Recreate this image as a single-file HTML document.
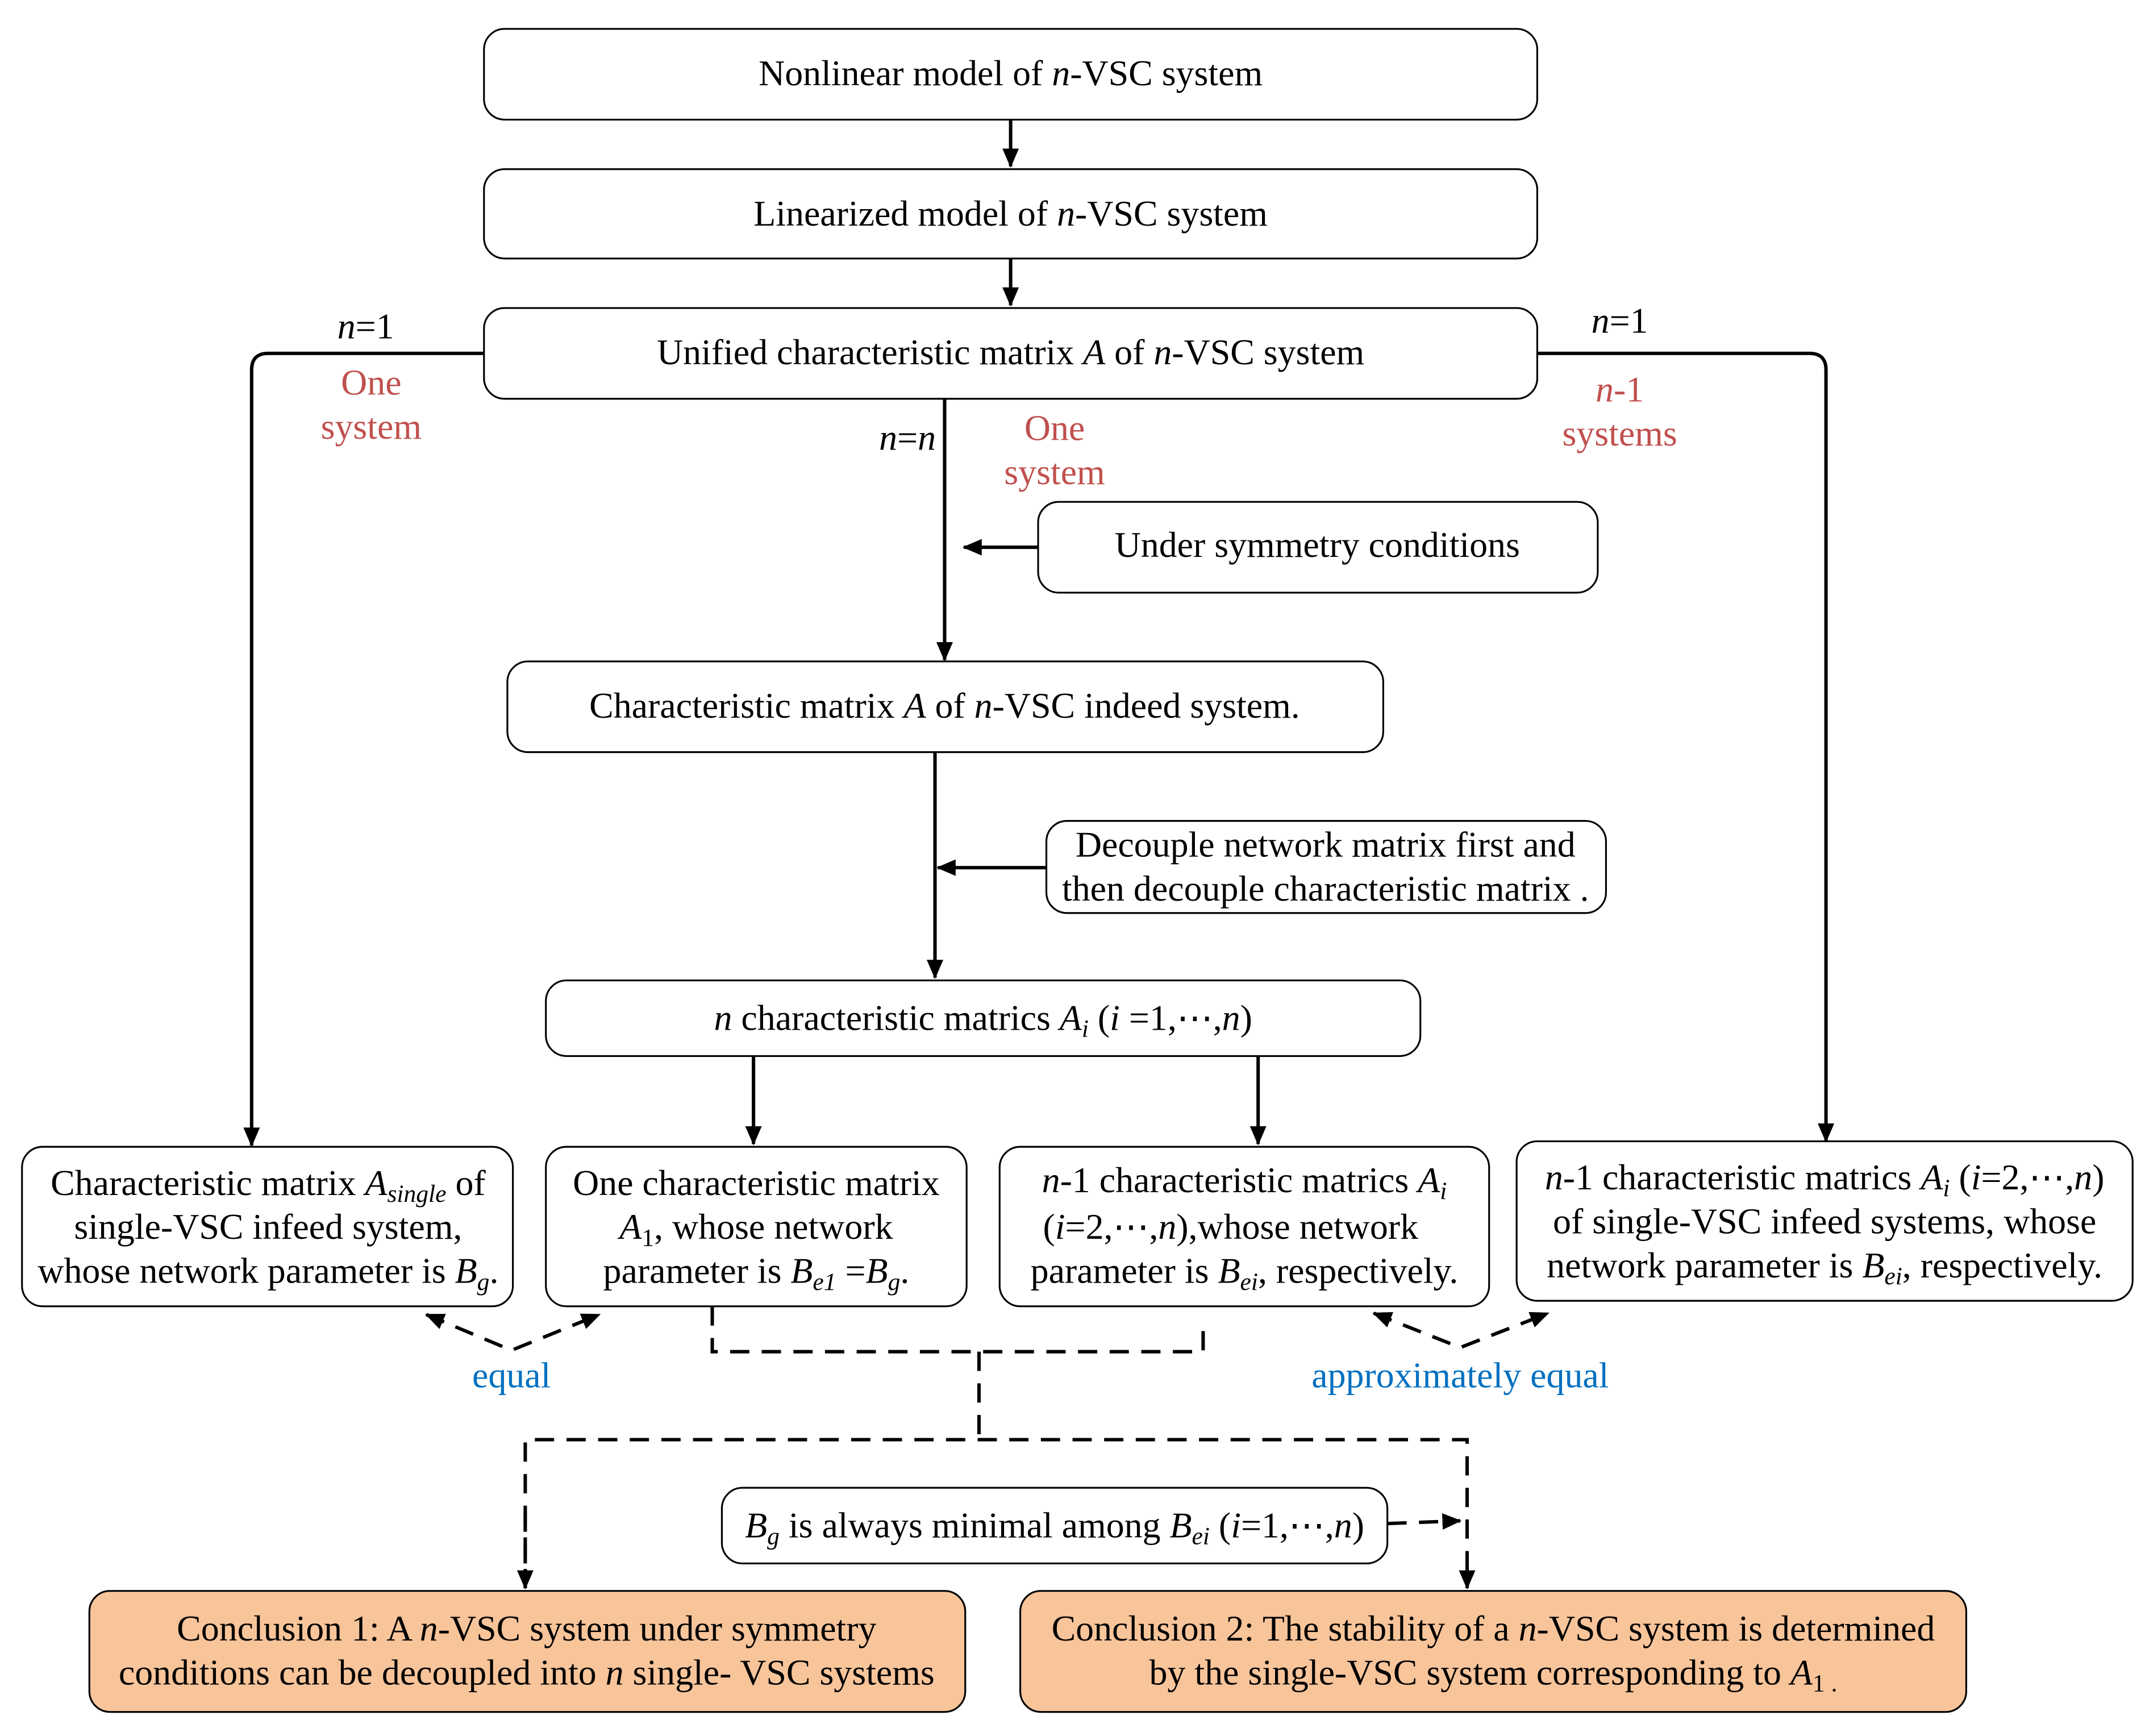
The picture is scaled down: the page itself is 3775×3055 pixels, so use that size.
<!DOCTYPE html>
<html><head><meta charset="utf-8"><style>
html,body{margin:0;padding:0;background:#fff}
svg{display:block}
text{font-family:"Liberation Serif",serif;font-size:26.4px;fill:#000}
.r{fill:#C0504D}.b{fill:#0070C0}
</style></head><body>
<svg width="3775" height="3055" viewBox="0 0 1560 1262.5" preserveAspectRatio="none" xmlns="http://www.w3.org/2000/svg">
<defs>
<marker id="a" markerWidth="14" markerHeight="14" refX="13" refY="7" orient="auto" markerUnits="userSpaceOnUse"><path d="M0,1 L14,7 L0,13 z" fill="#000"/></marker>
<marker id="s" markerWidth="14" markerHeight="14" refX="1" refY="7" orient="auto" markerUnits="userSpaceOnUse"><path d="M14,1 L0,7 L14,13 z" fill="#000"/></marker>
</defs>
<g fill="#fff" stroke="#000" stroke-width="1.3">
<rect x="352" y="21" width="766" height="66" rx="15"/>
<rect x="352" y="123" width="766" height="65" rx="15"/>
<rect x="352" y="224" width="766" height="66" rx="15"/>
<rect x="755" y="365" width="407" height="66" rx="15"/>
<rect x="369" y="481" width="637" height="66" rx="15"/>
<rect x="761" y="597" width="407" height="67" rx="15"/>
<rect x="397" y="713" width="636" height="55" rx="15"/>
<rect x="16" y="834" width="357" height="116" rx="15"/>
<rect x="397" y="834" width="306" height="116" rx="15"/>
<rect x="727" y="834" width="356" height="116" rx="15"/>
<rect x="1103" y="830" width="448" height="116" rx="15"/>
<rect x="525" y="1082" width="484" height="55" rx="15"/>
<rect x="65" y="1157" width="637" height="88" rx="15" fill="#F8C49A"/>
<rect x="742" y="1157" width="688" height="88" rx="15" fill="#F8C49A"/>
</g>
<g stroke="#000" stroke-width="2.5" fill="none">
<line x1="735" y1="87" x2="735" y2="121" marker-end="url(#a)"/>
<line x1="735" y1="188" x2="735" y2="222" marker-end="url(#a)"/>
<path d="M352,257 H195 Q183,257 183,269 V833" marker-end="url(#a)"/>
<path d="M1118,257 H1316 Q1328,257 1328,269 V830" marker-end="url(#a)"/>
<line x1="687" y1="290" x2="687" y2="480" marker-end="url(#a)"/>
<line x1="755" y1="398" x2="701" y2="398" marker-end="url(#a)"/>
<line x1="680" y1="547" x2="680" y2="711" marker-end="url(#a)"/>
<line x1="761" y1="631" x2="682" y2="631" marker-end="url(#a)"/>
<line x1="548" y1="768" x2="548" y2="832" marker-end="url(#a)"/>
<line x1="915" y1="768" x2="915" y2="832" marker-end="url(#a)"/>
</g>
<g stroke="#000" stroke-width="2.5" fill="none" stroke-dasharray="14,9">
<path d="M310,956 L372,982 L436,956" marker-start="url(#s)" marker-end="url(#a)"/>
<path d="M999,955 L1062,980 L1126,955" marker-start="url(#s)" marker-end="url(#a)"/>
<path d="M518,950 V983 H875 V960"/>
<line x1="712" y1="983" x2="712" y2="1047"/>
<path d="M382,1155 V1047 H1067 V1155" marker-end="url(#a)"/>
<line x1="382" y1="1100" x2="382" y2="1155" marker-end="url(#a)"/>
<line x1="1009" y1="1108" x2="1062" y2="1106" marker-end="url(#a)"/>
</g>
<g text-anchor="middle">
<text x="735" y="62">Nonlinear model of <tspan font-style="italic">n</tspan>-VSC system</text>
<text x="735" y="164">Linearized model of <tspan font-style="italic">n</tspan>-VSC system</text>
<text x="735" y="265">Unified characteristic matrix <tspan font-style="italic">A</tspan> of <tspan font-style="italic">n</tspan>-VSC system</text>
<text x="958" y="405">Under symmetry conditions</text>
<text x="687" y="522">Characteristic matrix <tspan font-style="italic">A</tspan> of <tspan font-style="italic">n</tspan>-VSC indeed system.</text>
<text x="964" y="623">Decouple network matrix first and</text>
<text x="964" y="655">then decouple characteristic matrix .</text>
<text x="715" y="749"><tspan font-style="italic">n</tspan> characteristic matrics <tspan font-style="italic">A<tspan font-size="18" dy="5">i</tspan></tspan><tspan dy="-5"> (</tspan><tspan font-style="italic">i</tspan> =1,⋯,<tspan font-style="italic">n</tspan>)</text>
<text x="195" y="869">Characteristic matrix <tspan font-style="italic">A<tspan font-size="18" dy="5">single</tspan></tspan><tspan dy="-5"> of</tspan></text>
<text x="195" y="901">single-VSC infeed system,</text>
<text x="195" y="933">whose network parameter is <tspan font-style="italic">B<tspan font-size="18" dy="5">g</tspan></tspan><tspan dy="-5">.</tspan></text>
<text x="550" y="869">One characteristic matrix</text>
<text x="550" y="901"><tspan font-style="italic">A</tspan><tspan font-size="18" dy="5">1</tspan><tspan dy="-5">, whose network</tspan></text>
<text x="550" y="933">parameter is <tspan font-style="italic">B<tspan font-size="18" dy="5">e1</tspan></tspan><tspan dy="-5"> =</tspan><tspan font-style="italic">B<tspan font-size="18" dy="5">g</tspan></tspan><tspan dy="-5">.</tspan></text>
<text x="905" y="867"><tspan font-style="italic">n</tspan>-1 characteristic matrics <tspan font-style="italic">A<tspan font-size="18" dy="5">i</tspan></tspan></text>
<text x="895" y="901">(<tspan font-style="italic">i</tspan>=2,⋯,<tspan font-style="italic">n</tspan>),whose network</text>
<text x="905" y="933">parameter is <tspan font-style="italic">B<tspan font-size="18" dy="5">ei</tspan></tspan><tspan dy="-5">, respectively.</tspan></text>
<text x="1327" y="865"><tspan font-style="italic">n</tspan>-1 characteristic matrics <tspan font-style="italic">A<tspan font-size="18" dy="5">i</tspan></tspan><tspan dy="-5">  (</tspan><tspan font-style="italic">i</tspan>=2,⋯,<tspan font-style="italic">n</tspan>)</text>
<text x="1327" y="897">of single-VSC infeed systems, whose</text>
<text x="1327" y="929">network parameter is <tspan font-style="italic">B<tspan font-size="18" dy="5">ei</tspan></tspan><tspan dy="-5">, respectively.</tspan></text>
<text x="767" y="1118"><tspan font-style="italic">B<tspan font-size="18" dy="5">g</tspan></tspan><tspan dy="-5"> is always minimal among </tspan><tspan font-style="italic">B<tspan font-size="18" dy="5">ei</tspan></tspan><tspan dy="-5"> (</tspan><tspan font-style="italic">i</tspan>=1,⋯,<tspan font-style="italic">n</tspan>)</text>
<text x="383" y="1193">Conclusion 1: A <tspan font-style="italic">n</tspan>-VSC system under symmetry</text>
<text x="383" y="1225">conditions can be decoupled into <tspan font-style="italic">n</tspan> single- VSC systems</text>
<text x="1086" y="1193">Conclusion 2: The stability of a <tspan font-style="italic">n</tspan>-VSC system is determined</text>
<text x="1086" y="1225">by the single-VSC system corresponding to <tspan font-style="italic">A</tspan><tspan font-size="18" dy="5">1 .</tspan></text>
<text x="266" y="246"><tspan font-style="italic">n</tspan>=1</text>
<text x="1178" y="242"><tspan font-style="italic">n</tspan>=1</text>
<text x="660" y="327"><tspan font-style="italic">n</tspan>=<tspan font-style="italic">n</tspan></text>
<text x="270" y="287" class="r">One</text>
<text x="270" y="319" class="r">system</text>
<text x="767" y="320" class="r">One</text>
<text x="767" y="352" class="r">system</text>
<text x="1178" y="292" class="r"><tspan font-style="italic" class="r">n</tspan>-1</text>
<text x="1178" y="324" class="r">systems</text>
<text x="372" y="1009" class="b">equal</text>
<text x="1062" y="1009" class="b">approximately equal</text>
</g>
</svg>
</body></html>
